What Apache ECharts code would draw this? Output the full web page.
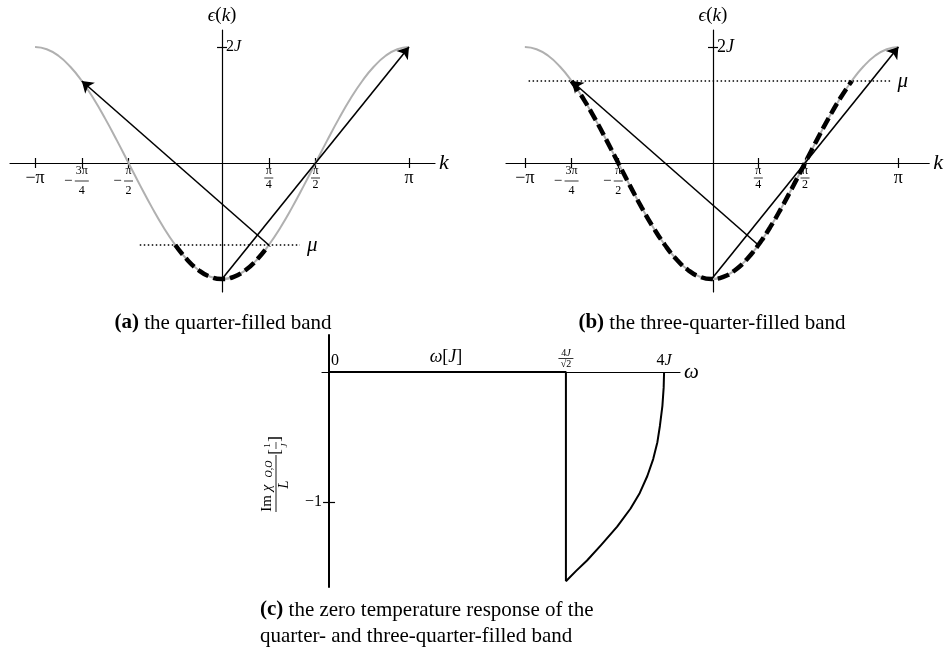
<!DOCTYPE html>
<html>
<head>
<meta charset="utf-8">
<title>Band filling and zero temperature response</title>
<script src="https://cdn.jsdelivr.net/npm/echarts@6.0.0/dist/echarts.min.js"></script>
<style>
html, body { margin: 0; padding: 0; background: #ffffff; }
#chart { width: 944px; height: 659px; }
</style>
</head>
<body>
<div id="chart"></div>
<script>
// Wave vector k (units of pi), sampled every pi/16
const kSamples = [-1, -0.9375, -0.875, -0.8125, -0.75, -0.6875, -0.625, -0.5625, -0.5,
  -0.4375, -0.375, -0.3125, -0.25, -0.1875, -0.125, -0.0625, 0, 0.0625, 0.125, 0.1875,
  0.25, 0.3125, 0.375, 0.4375, 0.5, 0.5625, 0.625, 0.6875, 0.75, 0.8125, 0.875, 0.9375, 1];
// Band energy eps(k) in units of J at those k
const bandEnergy = [2, 1.962, 1.848, 1.663, 1.414, 1.111, 0.765, 0.390, 0, -0.390, -0.765,
  -1.111, -1.414, -1.663, -1.848, -1.962, -2, -1.962, -1.848, -1.663, -1.414, -1.111,
  -0.765, -0.390, 0, 0.390, 0.765, 1.111, 1.414, 1.663, 1.848, 1.962, 2];

// Fermi points (units of pi) and chemical potentials (units of J)
const fermiKQuarter = 0.25;
const fermiKThreeQuarter = 0.75;
const muQuarter = -1.414;
const muThreeQuarter = 1.414;
// Horizontal extent of the dotted chemical potential lines (units of pi)
const muSpanQuarter = [-0.44, 0.417];
const muSpanThreeQuarter = [-0.98, 0.957];

// Excitation arrows: [start, end] as [k, eps]
const arrowsQuarter = [[[0, -2], [1, 2]], [[0.25, -1.414], [-0.75, 1.414]]];
const arrowsThreeQuarter = [[[0, -2], [1, 2]], [[0.25, -1.414], [-0.75, 1.414]]];

// Axis ticks
const kTicks = [-1, -0.75, -0.5, 0.25, 0.5, 1];
const energyTicks = [2];

// Zero temperature response Im chi / L (units of 1/J) against omega (units of J)
const stepOmega = [0, 2.828, 2.828];
const stepResponse = [0, 0, -1.61];
const edgeOmega = [2.828, 2.95, 3.08, 3.25, 3.44, 3.6, 3.71, 3.8, 3.87, 3.92, 3.95, 3.98, 3.995, 4];
const edgeResponse = [-1.61, -1.53, -1.45, -1.33, -1.19, -1.05, -0.93, -0.80, -0.67, -0.54, -0.415, -0.26, -0.12, 0];
const omegaTicks = [0, 2.828, 4];
const responseTicks = [-1];

// Axis ranges
const kRangeA = [-1.134, 1.139];
const kRangeB = [-1.101, 1.165];
const energyRange = [-2.224, 2.293];
const omegaRange = [-0.084, 4.19];
const responseRange = [-1.654, 0.285];

const SERIF = "'Liberation Serif', 'DejaVu Serif', serif";
const BLACK = '#000000';
const GRAY = '#b0b0b0';

const grids = [
  { left: 10, top: 30, width: 425, height: 262 },
  { left: 506, top: 30, width: 426, height: 262 },
  { left: 322, top: 335, width: 358, height: 252 }
];

// Shift an axis from the grid edge to the zero of the crossing axis
const zeroOffset = (range, size) => -(0 - range[0]) / (range[1] - range[0]) * size;

const zip = (xs, ys) => xs.map((x, i) => [x, ys[i]]);
const bandData = zip(kSamples, bandEnergy);
const filled = kF => bandData.filter(p => Math.abs(p[0]) <= kF + 1e-9);

const kLabelText = {
  '-1': '{big|−π}',
  '-0.75': '{s|}{n3|3π}{s|}\n{m|−}{b3|}{s|}\n{s|}{d3|4}{s|}',
  '-0.5': '{s|}{n|π}{s|}\n{m|−}{b|}{s|}\n{s|}{d|2}{s|}',
  '0.25': '{n|π}\n{b|}\n{d|4}',
  '0.5': '{n|π}\n{b|}\n{d|2}',
  '1': '{big|π}'
};
const fracFont = { fontFamily: SERIF, fontSize: 12, color: BLACK, lineHeight: 10, align: 'center' };
const kRich = {
  big: { fontFamily: SERIF, fontSize: 18, color: BLACK, lineHeight: 24, align: 'center' },
  n: Object.assign({}, fracFont, { width: 9 }),
  d: Object.assign({}, fracFont, { width: 9 }),
  n3: Object.assign({}, fracFont, { width: 14 }),
  d3: Object.assign({}, fracFont, { width: 14 }),
  b: { width: 9, height: 0.8, lineHeight: 4, backgroundColor: BLACK, align: 'center' },
  b3: { width: 14, height: 0.8, lineHeight: 4, backgroundColor: BLACK, align: 'center' },
  m: { fontFamily: SERIF, fontSize: 15, color: BLACK, width: 13, lineHeight: 4, align: 'center' },
  s: { width: 13, lineHeight: 10, align: 'center' }
};

function bandAxes(gridIndex, kRange, yLabelSize) {
  const g = grids[gridIndex];
  const xCommon = {
    gridIndex, type: 'value', min: kRange[0], max: kRange[1], splitLine: { show: false },
    position: 'bottom', offset: zeroOffset(energyRange, g.height)
  };
  const xMain = Object.assign({}, xCommon, {
    axisLine: { onZero: false, lineStyle: { color: BLACK, width: 1.2 } },
    axisTick: { show: true, customValues: kTicks, length: 5, lineStyle: { color: BLACK, width: 1.2 } },
    axisLabel: {
      show: true, customValues: kTicks, margin: 3,
      formatter: v => kLabelText[String(v)] || '', rich: kRich
    },
    name: 'k', nameLocation: 'end', nameGap: 4,
    nameTextStyle: { fontFamily: SERIF, fontStyle: 'italic', fontSize: 22, color: BLACK }
  });
  const xInner = Object.assign({}, xCommon, {
    axisLine: { show: false, onZero: false },
    axisTick: { show: true, inside: true, customValues: kTicks, length: 5, lineStyle: { color: BLACK, width: 1.2 } },
    axisLabel: { show: false }
  });
  const yCommon = {
    gridIndex, type: 'value', min: energyRange[0], max: energyRange[1], splitLine: { show: false },
    position: 'left', offset: zeroOffset(kRange, g.width)
  };
  const yMain = Object.assign({}, yCommon, {
    axisLine: { onZero: false, lineStyle: { color: BLACK, width: 1.2 } },
    axisTick: { show: true, customValues: energyTicks, length: 5, lineStyle: { color: BLACK, width: 1.2 } },
    axisLabel: {
      show: true, inside: true, customValues: energyTicks, margin: 4,
      formatter: () => '{r|2}{i|J}',
      fontSize: yLabelSize,
      rich: {
        r: { fontFamily: SERIF, fontSize: yLabelSize, color: BLACK },
        i: { fontFamily: SERIF, fontSize: yLabelSize, fontStyle: 'italic', color: BLACK }
      }
    },
    name: '{i|ϵ}({i|k})', nameLocation: 'end', nameGap: 5,
    nameTextStyle: {
      fontFamily: SERIF, fontSize: 19, color: BLACK,
      rich: { i: { fontFamily: SERIF, fontSize: 19, fontStyle: 'italic', color: BLACK } }
    }
  });
  const yInner = Object.assign({}, yCommon, {
    axisLine: { show: false, onZero: false },
    axisTick: { show: true, inside: true, customValues: energyTicks, length: 5, lineStyle: { color: BLACK, width: 1.2 } },
    axisLabel: { show: false }
  });
  return { x: [xMain, xInner], y: [yMain, yInner] };
}

function bandSeries(axisIndex, kF, mu, muSpan, arrows) {
  return [
    {
      type: 'line', xAxisIndex: axisIndex, yAxisIndex: axisIndex, data: bandData,
      smooth: true, showSymbol: false, silent: true,
      lineStyle: { color: GRAY, width: 2 }, z: 2
    },
    {
      type: 'line', xAxisIndex: axisIndex, yAxisIndex: axisIndex, data: filled(kF),
      smooth: true, showSymbol: false, silent: true,
      lineStyle: { color: BLACK, width: 4.5, type: [12, 5] }, z: 3
    },
    {
      type: 'line', xAxisIndex: axisIndex, yAxisIndex: axisIndex,
      data: [[muSpan[0], mu], [muSpan[1], mu]],
      showSymbol: false, silent: true,
      lineStyle: { color: BLACK, width: 1.5, type: [1.5, 2.5] }, z: 4,
      endLabel: {
        show: true, formatter: 'μ', distance: 7,
        fontFamily: SERIF, fontStyle: 'italic', fontSize: 21, color: BLACK
      }
    },
    {
      type: 'lines', coordinateSystem: 'cartesian2d', xAxisIndex: axisIndex, yAxisIndex: axisIndex,
      data: arrows.map(a => ({ coords: a })), silent: true,
      symbol: ['none', 'arrow'], symbolSize: [0, 11],
      lineStyle: { color: BLACK, width: 1.6, opacity: 1, curveness: 0 }, z: 5
    }
  ];
}

const axesA = bandAxes(0, kRangeA, 16);
const axesB = bandAxes(1, kRangeB, 18);

// Response panel axes
const omegaCommon = {
  gridIndex: 2, type: 'value', min: omegaRange[0], max: omegaRange[1], splitLine: { show: false },
  position: 'bottom', offset: zeroOffset(responseRange, grids[2].height)
};
const omegaAxis = Object.assign({}, omegaCommon, {
  axisLine: { onZero: false, lineStyle: { color: BLACK, width: 1.2 } },
  axisTick: { show: false },
  axisLabel: {
    show: true, inside: true, customValues: omegaTicks, margin: 3,
    formatter: v => v === 0 ? '{z|0}' : (v === 4 ? '{t|4}{ti|J}' : '{fn|4}{fi|J}\n{fb|}\n{fs|√2}'),
    rich: {
      z: { fontFamily: SERIF, fontSize: 16, color: BLACK, padding: [0, 0, 0, 12] },
      t: { fontFamily: SERIF, fontSize: 16, color: BLACK },
      ti: { fontFamily: SERIF, fontSize: 16, fontStyle: 'italic', color: BLACK },
      fn: { fontFamily: SERIF, fontSize: 10, color: BLACK, lineHeight: 8 },
      fi: { fontFamily: SERIF, fontSize: 10, fontStyle: 'italic', color: BLACK, lineHeight: 8 },
      fb: { width: 15, height: 0.8, lineHeight: 3, backgroundColor: BLACK },
      fs: { fontFamily: SERIF, fontSize: 10, color: BLACK, lineHeight: 9 }
    }
  },
  name: 'ω', nameLocation: 'end', nameGap: 4,
  nameTextStyle: { fontFamily: SERIF, fontStyle: 'italic', fontSize: 21, color: BLACK }
});
const omegaAxisShadow = Object.assign({}, omegaCommon, { show: false });

const responseCommon = {
  gridIndex: 2, type: 'value', min: responseRange[0], max: responseRange[1], splitLine: { show: false },
  position: 'left', offset: zeroOffset(omegaRange, grids[2].width)
};
const responseAxis = Object.assign({}, responseCommon, {
  axisLine: { onZero: false, lineStyle: { color: BLACK, width: 2 } },
  axisTick: { show: true, customValues: responseTicks, length: 6, lineStyle: { color: BLACK, width: 1.2 } },
  axisLabel: {
    show: true, customValues: responseTicks, margin: 7,
    formatter: () => '−1', fontFamily: SERIF, fontSize: 16, color: BLACK
  }
});
const responseAxisInner = Object.assign({}, responseCommon, {
  axisLine: { show: false, onZero: false },
  axisTick: { show: true, inside: true, customValues: responseTicks, length: 6, lineStyle: { color: BLACK, width: 1.2 } },
  axisLabel: { show: false }
});

const CAPTION_SIZE = 21;
const captionRich = {
  b: { fontFamily: SERIF, fontSize: CAPTION_SIZE, fontWeight: 'bold', fill: BLACK }
};
function caption(x, y, text, align) {
  return {
    type: 'text', x, y, silent: true,
    style: {
      text, rich: captionRich, fontFamily: SERIF, fontSize: CAPTION_SIZE, fill: BLACK,
      align: align || 'center', verticalAlign: 'middle'
    }
  };
}

const option = {
  backgroundColor: '#ffffff',
  animation: false,
  grid: grids,
  xAxis: [axesA.x[0], axesA.x[1], axesB.x[0], axesB.x[1], omegaAxis, omegaAxisShadow],
  yAxis: [axesA.y[0], axesA.y[1], axesB.y[0], axesB.y[1], responseAxis, responseAxisInner],
  series: [
    ...bandSeries(0, fermiKQuarter, muQuarter, muSpanQuarter, arrowsQuarter),
    ...bandSeries(2, fermiKThreeQuarter, muThreeQuarter, muSpanThreeQuarter, arrowsThreeQuarter),
    {
      type: 'line', xAxisIndex: 4, yAxisIndex: 4, data: zip(stepOmega, stepResponse),
      showSymbol: false, silent: true, lineStyle: { color: BLACK, width: 2 }, z: 3
    },
    {
      type: 'line', xAxisIndex: 4, yAxisIndex: 4, data: zip(edgeOmega, edgeResponse),
      smooth: false, showSymbol: false, silent: true, lineStyle: { color: BLACK, width: 2, join: 'round' }, z: 3
    }
  ],
  graphic: [
    caption(223, 323, '{b|(a)} the quarter-filled band'),
    caption(712, 323, '{b|(b)} the three-quarter-filled band'),
    caption(260, 610, '{b|(c)} the zero temperature response of the', 'left'),
    caption(260, 636, 'quarter- and three-quarter-filled band', 'left'),
    {
      type: 'text', x: 446, y: 357, silent: true,
      style: {
        text: '{i|ω}[{i|J}]', fontFamily: SERIF, fontSize: 18, fill: BLACK,
        align: 'center', verticalAlign: 'middle',
        rich: { i: { fontFamily: SERIF, fontSize: 18, fontStyle: 'italic', fill: BLACK } }
      }
    },
    {
      type: 'text', x: 276, y: 474, rotation: Math.PI / 2, silent: true,
      style: {
        text: '{A|Im}{Ai|χ}{As|O,O}{g|}{sn|1}{g|}\n{Ab|}{br|[}{sb|}{br|]}\n{Ad|L}{g|}{sd|J}{g|}',
        align: 'center', verticalAlign: 'middle', fill: BLACK,
        rich: {
          A: { fontFamily: SERIF, fontSize: 15, width: 19, lineHeight: 14, align: 'center', fill: BLACK },
          Ai: { fontFamily: SERIF, fontSize: 15, fontStyle: 'italic', width: 12, lineHeight: 14, align: 'center', fill: BLACK },
          As: { fontFamily: SERIF, fontSize: 10, fontStyle: 'italic', width: 26, lineHeight: 14, verticalAlign: 'bottom', align: 'center', fill: BLACK },
          Ab: { width: 57, height: 0.9, lineHeight: 3, backgroundColor: BLACK, align: 'center' },
          Ad: { fontFamily: SERIF, fontSize: 15, fontStyle: 'italic', width: 57, lineHeight: 14, align: 'center', fill: BLACK },
          g: { width: 6, lineHeight: 9, align: 'center' },
          br: { fontFamily: SERIF, fontSize: 17, width: 6, lineHeight: 3, align: 'center', fill: BLACK },
          sn: { fontFamily: SERIF, fontSize: 9, width: 9, lineHeight: 9, align: 'center', fill: BLACK },
          sb: { width: 7, height: 0.7, lineHeight: 3, backgroundColor: BLACK, align: 'center' },
          sd: { fontFamily: SERIF, fontSize: 9, fontStyle: 'italic', width: 9, lineHeight: 9, align: 'center', fill: BLACK }
        }
      }
    }
  ]
};

const chart = echarts.init(document.getElementById('chart'), null, { renderer: 'canvas' });
chart.setOption(option);
</script>
</body>
</html>
